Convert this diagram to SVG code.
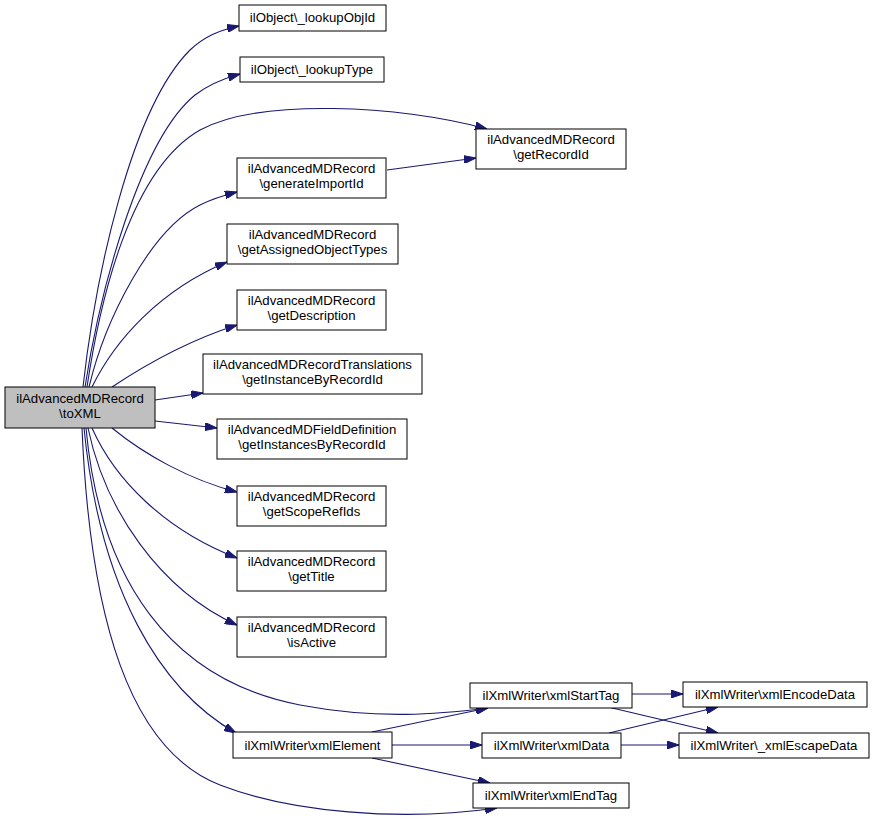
<svg xmlns="http://www.w3.org/2000/svg" width="876" height="827" viewBox="0 0 876 827">
<style>
.n rect{fill:#fff;stroke:#000;stroke-width:1}
.m rect{fill:#bfbfbf;stroke:#000;stroke-width:1}
text{font-family:"Liberation Sans",Arial,sans-serif;font-size:13.2px;text-anchor:middle;fill:#000}
.e path{fill:none;stroke:#191970;stroke-width:1.1;marker-end:url(#a)}
</style>
<defs>
<marker id="a" viewBox="0 0 12 8" refX="12" refY="4" markerWidth="12" markerHeight="8" markerUnits="userSpaceOnUse" orient="auto">
<path d="M0,0 L12,4 L0,8 z" fill="#191970" stroke="#191970"/>
</marker>
</defs>
<rect width="876" height="827" fill="#fff"/>
<g class="e" id="edges">
<path d="M83,387 C95,280 130,110 190,50 C205,36 220,30 239,26"/>
<path d="M85,387 C100,290 140,140 195,95 C208,85 222,79 240,74"/>
<path d="M87,387 C100,300 130,170 200,130 C260,98 400,105 487,129"/>
<path d="M89,387 C105,320 150,230 200,205 C212,199 225,195 237,192"/>
<path d="M92,387 C115,340 160,290 227,262"/>
<path d="M112,387 C145,365 190,340 237,325"/>
<path d="M155,400 L203,393"/>
<path d="M155,421 L217,428"/>
<path d="M112,428 C145,455 190,480 237,492"/>
<path d="M92,428 C115,480 165,530 237,558"/>
<path d="M88,428 C105,510 160,590 237,625"/>
<path d="M86,428 C100,580 170,680 300,705 C380,720 440,714 488,708"/>
<path d="M84,428 C100,590 160,690 236,733"/>
<path d="M82,428 C90,620 130,750 220,785 C290,812 400,822 497,808"/>
<path d="M387,170 L476,158"/>
<path d="M372,732 L488,708"/>
<path d="M392,745 L482,745"/>
<path d="M372,758 L490,783"/>
<path d="M632,694 L683,694"/>
<path d="M608,707 L718,733"/>
<path d="M609,733 L718,707"/>
<path d="M621,745 L679,745"/>
</g>
<g class="m" id="n0"><rect x="5" y="387" width="150" height="41"/><text x="80" y="403">ilAdvancedMDRecord</text><text x="80" y="418">\toXML</text></g>
<g class="n" id="n1"><rect x="239" y="5" width="147" height="26"/><text x="312.5" y="22">ilObject\_lookupObjId</text></g>
<g class="n" id="n2"><rect x="240" y="57" width="144" height="25"/><text x="312" y="74">ilObject\_lookupType</text></g>
<g class="n" id="n3"><rect x="476" y="129" width="150" height="40"/><text x="551" y="144">ilAdvancedMDRecord</text><text x="551" y="159">\getRecordId</text></g>
<g class="n" id="n4"><rect x="237" y="158" width="149" height="40"/><text x="311.5" y="173">ilAdvancedMDRecord</text><text x="311.5" y="188">\generateImportId</text></g>
<g class="n" id="n5"><rect x="227" y="224" width="171" height="40"/><text x="312.5" y="239">ilAdvancedMDRecord</text><text x="312.5" y="254">\getAssignedObjectTypes</text></g>
<g class="n" id="n6"><rect x="237" y="290" width="149" height="40"/><text x="311.5" y="305">ilAdvancedMDRecord</text><text x="311.5" y="320">\getDescription</text></g>
<g class="n" id="n7"><rect x="203" y="354" width="219" height="40"/><text x="312.5" y="369">ilAdvancedMDRecordTranslations</text><text x="312.5" y="384">\getInstanceByRecordId</text></g>
<g class="n" id="n8"><rect x="217" y="419" width="190" height="40"/><text x="312" y="434">ilAdvancedMDFieldDefinition</text><text x="312" y="449">\getInstancesByRecordId</text></g>
<g class="n" id="n9"><rect x="237" y="486" width="149" height="40"/><text x="311.5" y="501">ilAdvancedMDRecord</text><text x="311.5" y="516">\getScopeRefIds</text></g>
<g class="n" id="n10"><rect x="237" y="551" width="149" height="40"/><text x="311.5" y="566">ilAdvancedMDRecord</text><text x="311.5" y="581">\getTitle</text></g>
<g class="n" id="n11"><rect x="237" y="617" width="149" height="40"/><text x="311.5" y="632">ilAdvancedMDRecord</text><text x="311.5" y="647">\isActive</text></g>
<g class="n" id="n12"><rect x="470" y="683" width="162" height="25"/><text x="551" y="700">ilXmlWriter\xmlStartTag</text></g>
<g class="n" id="n13"><rect x="683" y="682" width="184" height="25"/><text x="775" y="699">ilXmlWriter\xmlEncodeData</text></g>
<g class="n" id="n14"><rect x="233" y="732" width="159" height="26"/><text x="312.5" y="750">ilXmlWriter\xmlElement</text></g>
<g class="n" id="n15"><rect x="482" y="733" width="139" height="25"/><text x="551.5" y="750">ilXmlWriter\xmlData</text></g>
<g class="n" id="n16"><rect x="679" y="733" width="190" height="25"/><text x="774" y="750">ilXmlWriter\_xmlEscapeData</text></g>
<g class="n" id="n17"><rect x="473" y="783" width="156" height="25"/><text x="551" y="800">ilXmlWriter\xmlEndTag</text></g>
</svg>
